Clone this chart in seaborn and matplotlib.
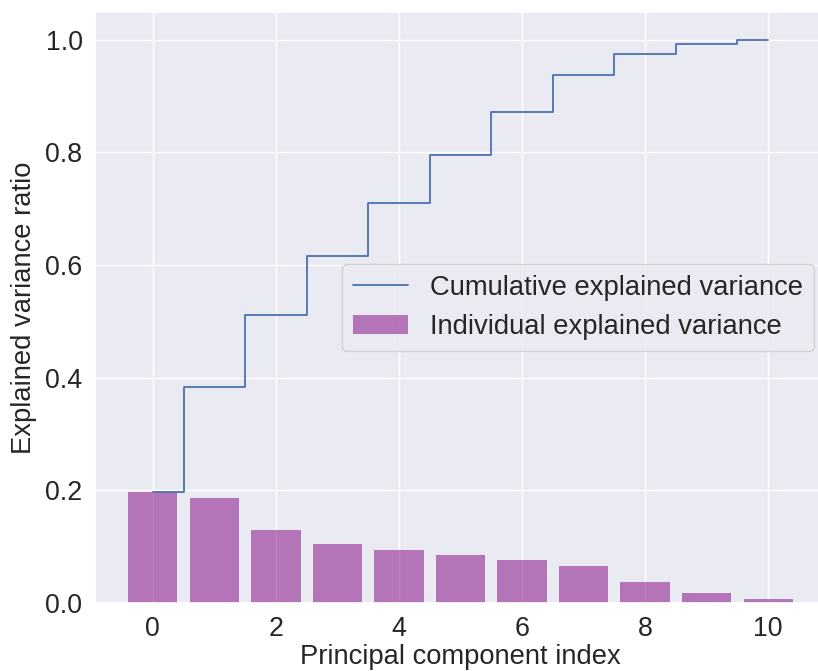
import matplotlib
matplotlib.use("Agg")
import matplotlib.pyplot as plt
import seaborn as sns

# ---- data ----
components = list(range(11))
individual = [0.197, 0.186, 0.129, 0.104, 0.094, 0.085, 0.077, 0.066, 0.037, 0.018, 0.007]
cumulative = [0.197, 0.383, 0.512, 0.616, 0.710, 0.795, 0.872, 0.938, 0.975, 0.993, 1.000]
x_ticks = [0, 2, 4, 6, 8, 10]
y_ticks = [0.0, 0.2, 0.4, 0.6, 0.8, 1.0]

sns.set_theme(style="darkgrid")
plt.rcParams["font.family"] = ["Liberation Sans", "DejaVu Sans"]

FS_TICK = 19.3
FS = 19.7
W, H = 818, 671
fig = plt.figure(figsize=(W / 100, H / 100), dpi=100)
ax = fig.add_axes([95 / W, 1 - 603 / H, (826 - 95) / W, (603 - 11.7) / H])

sns.barplot(x=components, y=individual, native_scale=True, color="purple",
            alpha=0.5, saturation=1, errorbar=None, linewidth=0, width=0.8,
            label="Individual explained variance", ax=ax)
sns.lineplot(x=components, y=cumulative, drawstyle="steps-mid", color="#4C72B0",
             linewidth=1.3, label="Cumulative explained variance", ax=ax)

ax.set_xlim(-0.94, 10.94)
ax.set_ylim(0, 1.05)
ax.set_xticks(x_ticks)
ax.set_xticklabels([str(t) for t in x_ticks])
ax.set_yticks(y_ticks)
ax.set_yticklabels([f"{t:.1f}" for t in y_ticks])
ax.tick_params(axis="both", labelsize=FS_TICK, colors=".15")
ax.tick_params(axis="x", pad=3.5)
ax.tick_params(axis="y", pad=3)
ax.set_xlabel("Principal component index", fontsize=FS, color=".15", labelpad=1)
ax.set_ylabel("Explained variance ratio", fontsize=FS, color=".15", labelpad=6)

handles, labels = ax.get_legend_handles_labels()
order = [labels.index("Cumulative explained variance"), labels.index("Individual explained variance")]
ax.legend([handles[i] for i in order], [labels[i] for i in order],
          loc="center right", fontsize=FS, borderaxespad=0.45)

fig.savefig("out.png", dpi=100)
